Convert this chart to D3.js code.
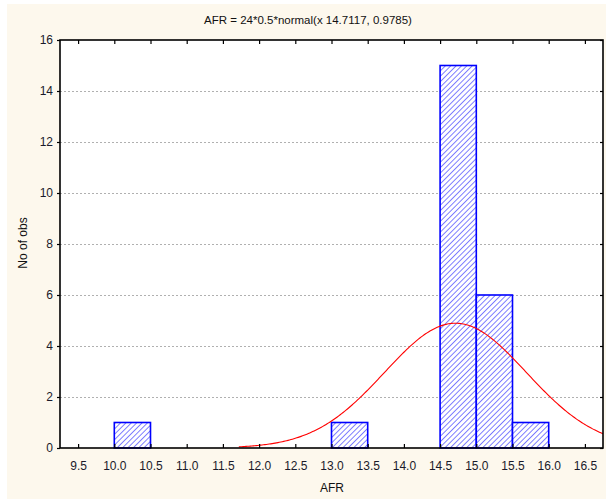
<!DOCTYPE html>
<html><head><meta charset="utf-8">
<script src="https://cdn.jsdelivr.net/npm/d3@7"></script>
<style>body{margin:0;background:#fff}svg{display:block}</style>
</head><body><svg id="c" width="606" height="499"></svg>
<script>
const binStarts = [10.0, 13.0, 14.5, 15.0, 15.5];
const binWidth = 0.5;
const counts = [1, 1, 15, 6, 1];
const xTicks = [9.5, 10.0, 10.5, 11.0, 11.5, 12.0, 12.5, 13.0, 13.5, 14.0, 14.5, 15.0, 15.5, 16.0, 16.5];
const yTicks = [0, 2, 4, 6, 8, 10, 12, 14, 16];
const fitN = 24, fitMean = 14.7117, fitSd = 0.9785, fitStart = 11.72;
const titleText = "AFR = 24*0.5*normal(x 14.7117, 0.9785)";

const svg = d3.select("#c");
const font = "'Liberation Sans', Arial, sans-serif";
svg.append("rect").attr("x",7).attr("y",4).attr("width",599).attr("height",495).attr("fill","#fdf8ed");

const L=60, R=603, T=40, B=448;
const x = d3.scaleLinear().domain([9.25,16.75]).range([L,R]);
const y = d3.scaleLinear().domain([0,16]).range([B,T]);

const defs = svg.append("defs");
const hs = 3.8;
const pat = defs.append("pattern").attr("id","hatch").attr("patternUnits","userSpaceOnUse")
  .attr("width",hs).attr("height",hs).attr("patternTransform","rotate(45)");
pat.append("rect").attr("width",hs).attr("height",hs).attr("fill","#fff");
pat.append("line").attr("x1",0).attr("y1",0).attr("x2",0).attr("y2",hs).attr("stroke","#2a2aff").attr("stroke-width",1.2);
defs.append("clipPath").attr("id","clip").append("rect").attr("x",L).attr("y",T).attr("width",R-L).attr("height",B-T);

svg.append("rect").attr("x",L).attr("y",T).attr("width",R-L).attr("height",B-T).attr("fill","#fff");

// gridlines
svg.append("g").selectAll("line").data(yTicks.filter(d=>d>0&&d<16)).join("line")
  .attr("x1",L).attr("x2",R).attr("y1",d=>Math.round(y(d))+0.5).attr("y2",d=>Math.round(y(d))+0.5)
  .attr("stroke","#b0b0b0").attr("stroke-dasharray","2,2").attr("stroke-width",1);

// bars
svg.append("g").selectAll("rect").data(binStarts.map((s,i)=>({s,c:counts[i]}))).join("rect")
  .attr("x",d=>x(d.s)).attr("width",d=>x(d.s+binWidth)-x(d.s))
  .attr("y",d=>y(d.c)).attr("height",d=>y(0)-y(d.c))
  .attr("fill","url(#hatch)").attr("stroke","#0000ff").attr("stroke-width",1.6);

// fitted normal curve
const xs = d3.range(fitStart, 16.76, 0.02);
const pdf = v => fitN*binWidth*Math.exp(-0.5*((v-fitMean)/fitSd)**2)/(fitSd*Math.sqrt(2*Math.PI));
svg.append("path").attr("clip-path","url(#clip)").datum(xs)
  .attr("d", d3.line().x(d=>x(d)).y(d=>y(pdf(d))))
  .attr("fill","none").attr("stroke","#ff0000").attr("stroke-width",1.1);

// axes
const gx = svg.append("g").attr("transform",`translate(0,${B})`)
  .call(d3.axisBottom(x).tickValues(xTicks).tickFormat(d3.format(".1f")).tickSizeInner(-4).tickSizeOuter(0).tickPadding(13));
const gxt = svg.append("g").attr("transform",`translate(0,${T})`)
  .call(d3.axisTop(x).tickValues(xTicks).tickFormat("").tickSizeInner(-4).tickSizeOuter(0));
const gy = svg.append("g").attr("transform",`translate(${L},0)`)
  .call(d3.axisLeft(y).tickValues(yTicks).tickFormat(d3.format("d")).tickSizeInner(3).tickSizeOuter(0).tickPadding(4));
const gyr = svg.append("g").attr("transform",`translate(${R},0)`)
  .call(d3.axisRight(y).tickValues(yTicks).tickFormat("").tickSizeInner(-3).tickSizeOuter(0));
[gx,gxt,gy,gyr].forEach(g=>{
  g.select(".domain").remove();
  g.selectAll(".tick line").attr("stroke","#000").attr("stroke-width",1.2);
  g.selectAll("text").attr("font-family",font).attr("font-size",12).attr("fill","#1a1a2a");
});

// frame
svg.append("rect").attr("x",L).attr("y",T).attr("width",R-L).attr("height",B-T)
  .attr("fill","none").attr("stroke","#000").attr("stroke-width",1.6);

svg.append("text").attr("x",308).attr("y",24).attr("text-anchor","middle")
  .attr("font-family",font).attr("font-size",11.5).attr("fill","#111").text(titleText);
svg.append("text").attr("x",332).attr("y",492).attr("text-anchor","middle")
  .attr("font-family",font).attr("font-size",12).attr("fill","#111").text("AFR");
svg.append("text").attr("transform","translate(27,243) rotate(-90)").attr("text-anchor","middle")
  .attr("font-family",font).attr("font-size",12).attr("fill","#111").text("No of obs");
</script></body></html>
